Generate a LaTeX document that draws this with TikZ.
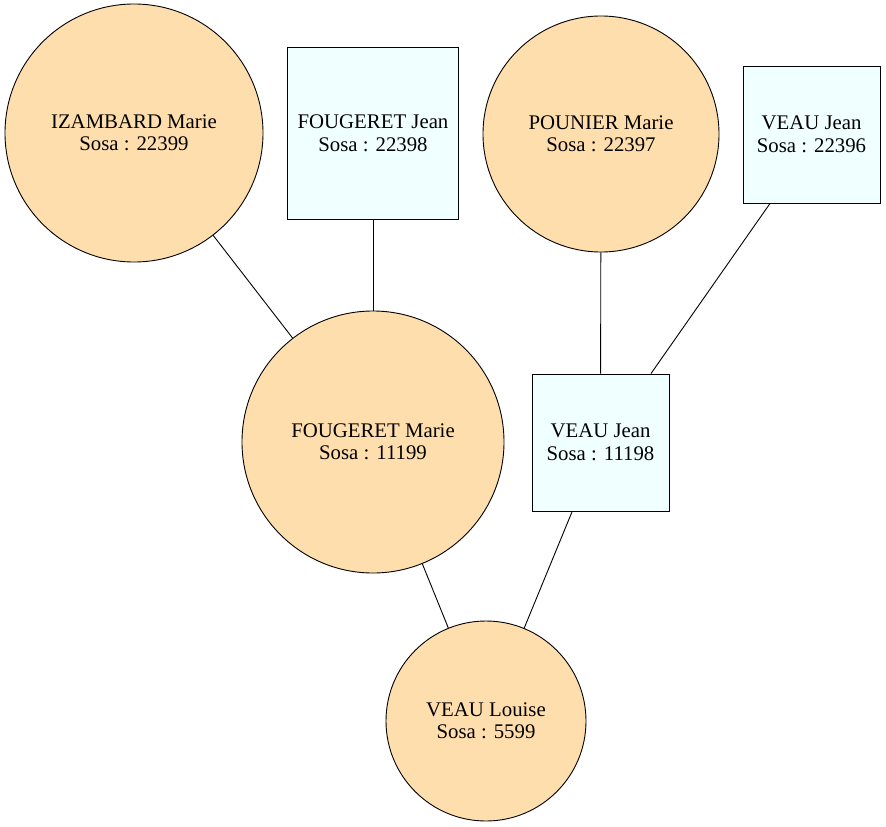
\documentclass[tikz,border=0pt]{standalone}
\usepackage{fontspec}
\setmainfont{Liberation Serif}
\definecolor{femfill}{HTML}{FFDEAD}
\definecolor{manfill}{HTML}{F0FFFF}
\begin{document}
\begin{tikzpicture}[x=1pt,y=-1pt,
  person/.style={draw=black,line width=0.9pt,inner sep=0pt,align=center,
    font=\fontsize{20.8}{22.5}\selectfont},
  female/.style={person,circle,fill=femfill},
  male/.style={person,rectangle,fill=manfill},
  link/.style={draw=black,line width=0.9pt}]
\useasboundingbox (0,0) rectangle (886,827);
% generation 3
\node[female,minimum size=258pt] (iz) at (134,133) {IZAMBARD Marie\\Sosa : 22399};
\node[male,minimum size=171.5pt] (fj) at (373,133.5) {FOUGERET Jean\\Sosa : 22398};
\node[female,minimum size=236pt] (po) at (601,134) {POUNIER Marie\\Sosa : 22397};
\node[male,minimum size=137pt] (vj2) at (811.5,134.5) {VEAU Jean\\Sosa : 22396};
% generation 2
\node[female,minimum size=262pt] (fm) at (373,442) {FOUGERET Marie\\Sosa : 11199};
\node[male,minimum size=137pt] (vj1) at (600.5,442.5) {VEAU Jean\\Sosa : 11198};
% generation 1
\node[female,minimum size=200pt] (vl) at (486,721) {VEAU Louise\\Sosa : 5599};
% parent links
\draw[link] (iz) -- (fm);
\draw[link] (fj) -- (fm);
\draw[link] (po) -- (vj1);
\draw[link] ([xshift=-41.5pt]vj2.south) -- ([xshift=50.5pt]vj1.north);
\draw[link] (fm) -- (vl);
\draw[link] (vj1) -- (vl);
\end{tikzpicture}
\end{document}
